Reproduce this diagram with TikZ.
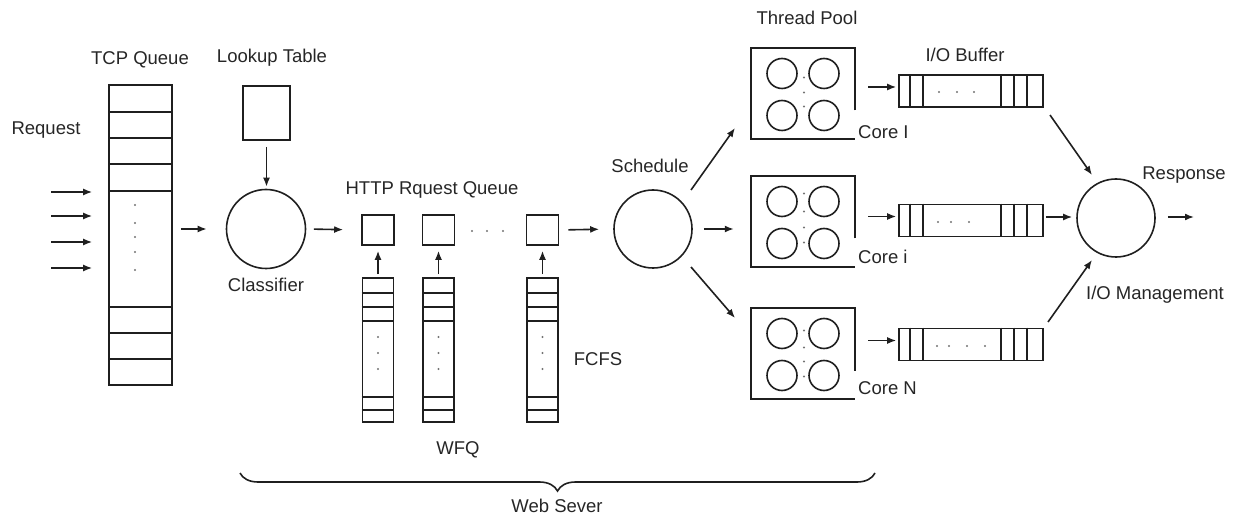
\documentclass[tikz,border=0pt]{standalone}
\usepackage{fontspec}
\setmainfont{Liberation Sans}
\usetikzlibrary{arrows.meta,decorations.pathreplacing,calc}
\begin{document}
\begin{tikzpicture}[x=1pt,y=-1pt,
  lw/.style={line width=1.6pt, draw=black!88},
  lbl/.style={font=\fontsize{18.5}{22}\selectfont, text=black!85, inner sep=0pt},
  arr/.style={lw, -{Latex[length=9pt,width=7pt]}},
  rbox/.style={lw, draw, inner sep=0pt, rectangle},
  bigcirc/.style={lw, draw, circle, inner sep=0pt, minimum size=78pt},
  pool/.style={inner sep=0pt, minimum width=104pt, minimum height=91pt},
  dotc/.style={fill=black!55},
]
\useasboundingbox (0,0) rectangle (1238,526);

% ---------- TCP queue ----------
\node[rbox, minimum width=63pt, minimum height=300pt] (tcp) at (140.5,235) {};
\foreach \yy in {112,138,164,191,307,333,359}
  \draw[lw] (tcp.west |- 0,\yy) -- (tcp.east |- 0,\yy);
\foreach \yy in {205,223,237,252,270}
  \fill[dotc] (135,\yy) circle (1.2pt);
\node[lbl] (tcplbl) at (140,60) {TCP Queue};
\node[lbl] (reqlbl) at (46,130) {Request};
\foreach \yy in {192,216,242,268} {
  \coordinate (rq\yy) at (51,\yy);
  \draw[arr, shorten >=16pt] (rq\yy) -- (tcp.west |- 0,\yy);
}

% ---------- Lookup / classifier ----------
\node[rbox, minimum width=47pt, minimum height=54pt] (lut) at (266.5,113) {};
\node[lbl] (lutlbl) at (272,58) {Lookup Table};
\node[bigcirc, minimum size=79pt] (cls) at (266,229) {};
\node[lbl] (clslbl) at (266,285) {Classifier};
\draw[arr, shorten <=6pt, shorten >=2pt] (lut.south) -- (lut.south |- cls.north);
\draw[arr, shorten <=8pt, shorten >=19pt] (tcp.east |- cls.west) -- (cls.west);

% ---------- HTTP request queue ----------
\node[lbl] (httplbl) at (432,190) {HTTP Rquest Queue};
\foreach \nm/\xx in {h1/378, h2/438.5, h3/542.5}
  \node[rbox, minimum width=32pt, minimum height=30pt] (\nm) at (\xx,230) {};
\foreach \xx in {472,487,503}
  \fill[dotc] (\xx,231) circle (1.2pt);
\draw[arr, shorten <=7.5pt, shorten >=18pt] (cls.east) -- (h1.west);

% WFQ / FCFS queues
\foreach \nm/\hn/\xx in {q1/h1/378, q2/h2/438.5, q3/h3/542.5} {
  \node[rbox, minimum width=31pt, minimum height=144pt] (\nm) at (\xx,350) {};
  \foreach \yy in {293,307,321,397,410}
    \draw[lw] (\nm.west |- 0,\yy) -- (\nm.east |- 0,\yy);
  \foreach \yy in {337,353,369}
    \fill[dotc] (\xx,\yy) circle (1.2pt);
  \draw[arr, shorten <=3pt, shorten >=5pt] (\nm.north) -- (\hn.south);
}
\node[lbl] (fcfs) at (598,359) {FCFS};
\node[lbl] (wfq) at (458,450) {WFQ};

% ---------- Schedule ----------
\node[bigcirc] (sched) at (653,229) {};
\node[lbl] (schedlbl) at (650,166) {Schedule};
\draw[arr, shorten <=9pt, shorten >=14pt] (h3.east) -- (sched.west);

% ---------- Thread pools ----------
\node[lbl] (tplbl) at (807,18) {Thread Pool};
\foreach \nm/\yc/\core/\cy in {p1/93.5/Core I/132, p2/221.5/Core i/257, p3/353.5/Core N/388} {
  \node[pool] (\nm) at (803,\yc) {};
  \draw[lw] ([yshift=-17pt]\nm.east) -- (\nm.north east) -- (\nm.north west)
            -- (\nm.south west) -- (\nm.south east);
  \foreach \dx/\dy in {-21/-20, 21/-20, -21/22, 21/22}
    \draw[lw] ($(\nm.center)+(\dx,\dy)$) circle (15pt);
  \node[lbl, anchor=west] (\nm lbl) at (858,\cy) {\core};
}
\foreach \dy in {-16,-1,13} \fill[dotc] ($(p1.center)+(1,\dy)$) circle (1.1pt);
\foreach \dy in {-28,-10,6,21} \fill[dotc] ($(p2.center)+(1,\dy)$) circle (1.1pt);
\foreach \dy in {-23,-6,8,23} \fill[dotc] ($(p3.center)+(1,\dy)$) circle (1.1pt);

% schedule -> pools
\coordinate (s1a) at (691,190); \coordinate (s1b) at (735,128);
\coordinate (s3a) at (691,267); \coordinate (s3b) at (735,318);
\draw[arr] (s1a) -- (s1b);
\draw[arr] (s3a) -- (s3b);
\draw[arr, shorten <=11pt, shorten >=17pt] (sched.east) -- (p2.west |- sched.east);

% ---------- I/O buffers ----------
\node[lbl] (iolbl) at (965,55) {I/O Buffer};
\foreach \nm/\pn/\yc in {b1/p1/91, b2/p2/220.5, b3/p3/344.5} {
  \node[rbox, minimum width=144pt, minimum height=32pt] (\nm) at (971,\yc) {};
  \foreach \o in {12,25,103,116,129}
    \draw[lw] ([xshift=\o pt]\nm.north west) -- ([xshift=\o pt]\nm.south west);
  \draw[arr] ($(\nm.west)+(-30,-4)$) -- ($(\nm.west)+(-2,-4)$);
}
\foreach \xx in {939,957,974} \fill[dotc] (\xx,92) circle (1.2pt);
\foreach \xx in {938,951,969} \fill[dotc] (\xx,222) circle (1.2pt);
\foreach \xx in {937,949,967,985} \fill[dotc] (\xx,346) circle (1.2pt);

% ---------- Response ----------
\node[bigcirc] (resp) at (1116,218) {};
\node[lbl] (resplbl) at (1184,175) {Response};
\node[lbl] (iomlbl) at (1155,295) {I/O Management};
\coordinate (r1a) at (1050,115); \coordinate (r1b) at (1092,175);
\coordinate (r3a) at (1048,322); \coordinate (r3b) at (1092,260);
\draw[arr] (r1a) -- (r1b);
\draw[arr] (r3a) -- (r3b);
\draw[arr, shorten <=2pt, shorten >=4pt] (b2.east |- 0,217) -- (resp.west |- 0,217);
\coordinate (out) at (1194,217);
\draw[arr, shorten <=12pt] (resp.east |- out) -- (out);

% ---------- Web server brace ----------
\coordinate (bl) at (240,473);
\coordinate (br) at (875,473);
\draw[lw, decorate, decoration={brace, mirror, amplitude=18pt}] (bl) -- (br);
\node[lbl] (wslbl) at (557,506) {Web Sever};
\end{tikzpicture}
\end{document}
